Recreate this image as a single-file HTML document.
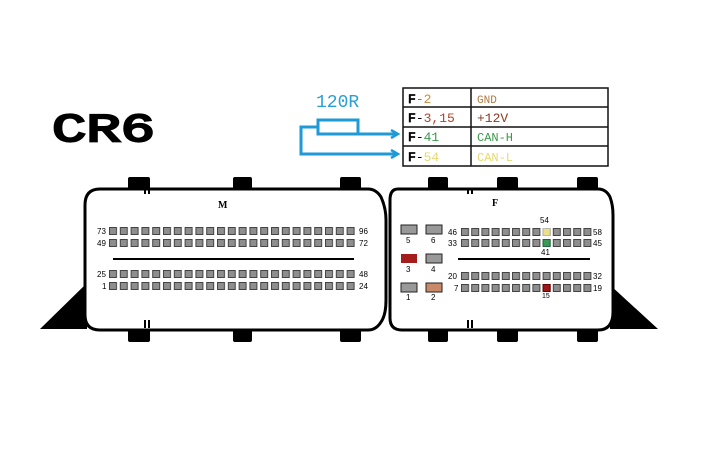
<!DOCTYPE html>
<html><head><meta charset="utf-8"><style>
html,body{margin:0;padding:0;background:#fff;}
svg{display:block;}
text{font-family:"Liberation Sans",sans-serif;}
text.m,.m text{font-family:"Liberation Mono","DejaVu Sans Mono",monospace;}
text.s{font-family:"Liberation Serif",serif;}
</style></head><body>
<svg width="719" height="455" viewBox="0 0 719 455" xmlns="http://www.w3.org/2000/svg">
<defs>
<pattern id="pm" x="109" y="0" width="10.8" height="8" patternUnits="userSpaceOnUse">
<rect x="0.5" y="0.5" width="7" height="7" fill="#8e8e8e" stroke="#444" stroke-width="1"/>
</pattern>
<pattern id="pf" x="461" y="0" width="10.2" height="8" patternUnits="userSpaceOnUse">
<rect x="0.5" y="0.5" width="7" height="7" fill="#8e8e8e" stroke="#444" stroke-width="1"/>
</pattern>
<marker id="ar" markerWidth="10" markerHeight="10" refX="8" refY="5" orient="auto" markerUnits="userSpaceOnUse">
<path d="M1,1 L8,5 L1,9" fill="none" stroke="#1e9ad6" stroke-width="2.5"/>
</marker>
</defs>
<rect width="719" height="455" fill="#fff"/>
<text x="52" y="141" class="m" font-size="40" stroke="#000" stroke-width="2.2" textLength="103" lengthAdjust="spacingAndGlyphs">CR6</text>

<text x="316" y="107" class="m" font-size="18" fill="#2a9fd2">120R</text>
<rect x="318" y="120" width="40" height="14" fill="none" stroke="#1e9ad6" stroke-width="3"/>
<polyline points="318,127 301,127 301,154 398,154" fill="none" stroke="#1e9ad6" stroke-width="3" marker-end="url(#ar)"/>
<line x1="358" y1="134" x2="398" y2="134" stroke="#1e9ad6" stroke-width="3" marker-end="url(#ar)"/>

<g stroke="#111" stroke-width="1.5" fill="none">
<rect x="403" y="88" width="205" height="78"/>
<line x1="471" y1="88" x2="471" y2="166"/>
<line x1="403" y1="107" x2="608" y2="107"/>
<line x1="403" y1="127" x2="608" y2="127"/>
<line x1="403" y1="146" x2="608" y2="146"/>
</g>
<g class="m" font-size="13">
<text x="408" y="103"><tspan stroke="#000" stroke-width="0.8">F</tspan><tspan fill="#b56">-</tspan><tspan fill="#c8893a">2</tspan></text>
<text x="408" y="122"><tspan stroke="#000" stroke-width="0.8">F</tspan>-<tspan fill="#b0432a">3,15</tspan></text>
<text x="408" y="141"><tspan stroke="#000" stroke-width="0.8">F</tspan>-<tspan fill="#3a9a4a">41</tspan></text>
<text x="408" y="161"><tspan stroke="#000" stroke-width="0.8">F</tspan>-<tspan fill="#e8d870">54</tspan></text>
<text x="477" y="103" font-size="11" fill="#b07a40">GND</text>
<text x="477" y="122" fill="#8a3a20">+12V</text>
<text x="477" y="141" font-size="12" fill="#3a9a4a">CAN-H</text>
<text x="477" y="161" font-size="12" fill="#e8d870">CAN-L</text>
</g>

<polygon points="40,329 87,283 87,329" fill="#000"/>
<polygon points="610,285 658,329 610,329" fill="#000"/>

<g fill="#000">
<rect x="128" y="177" width="22" height="14" rx="2"/><rect x="233" y="177" width="19" height="14" rx="2"/><rect x="340" y="177" width="21" height="14" rx="2"/>
<rect x="428" y="177" width="20" height="14" rx="2"/><rect x="497" y="177" width="21" height="14" rx="2"/><rect x="577" y="177" width="21" height="14" rx="2"/>
<rect x="128" y="327" width="22" height="15" rx="2"/><rect x="233" y="327" width="19" height="15" rx="2"/><rect x="340" y="327" width="21" height="15" rx="2"/>
<rect x="428" y="327" width="20" height="15" rx="2"/><rect x="497" y="327" width="21" height="15" rx="2"/><rect x="577" y="327" width="21" height="15" rx="2"/>
</g>

<path d="M100,189 L368,189 Q376,189 381,197 Q386,208 386,220 L386,300 Q386,315 381,322 Q376,330 368,330 L100,330 Q85,330 85,315 L85,205 Q85,189 100,189 Z" fill="#fff" stroke="#000" stroke-width="3"/>
<path d="M398,189 L598,189 Q606,189 610,197 Q613,205 613,215 L613,312 Q613,330 598,330 L402,330 Q390,330 390,318 L390,200 Q390,189 398,189 Z" fill="#fff" stroke="#000" stroke-width="3"/>
<g fill="#000"><rect x="144" y="189" width="2" height="5"/><rect x="148" y="189" width="2" height="5"/><rect x="144" y="320" width="2" height="8"/><rect x="148" y="320" width="2" height="8"/>
<rect x="467" y="189" width="2" height="5"/><rect x="471" y="189" width="2" height="5"/><rect x="467" y="320" width="2" height="8"/><rect x="471" y="320" width="2" height="8"/></g>

<text x="218" y="208" class="s" font-weight="bold" font-size="10">M</text>
<text x="492" y="206" class="s" font-weight="bold" font-size="10">F</text>

<g transform="translate(0,227)"><rect x="109" y="0" width="248" height="8" fill="url(#pm)"/></g>
<g transform="translate(0,239)"><rect x="109" y="0" width="248" height="8" fill="url(#pm)"/></g>
<g transform="translate(0,270)"><rect x="109" y="0" width="248" height="8" fill="url(#pm)"/></g>
<g transform="translate(0,282)"><rect x="109" y="0" width="248" height="8" fill="url(#pm)"/></g>
<line x1="113" y1="259" x2="354" y2="259" stroke="#000" stroke-width="2"/>
<g font-size="8">
<text x="97" y="234">73</text><text x="97" y="246">49</text><text x="97" y="277">25</text><text x="102" y="289">1</text>
<text x="359" y="234">96</text><text x="359" y="246">72</text><text x="359" y="277">48</text><text x="359" y="289">24</text>
</g>

<g transform="translate(0,228)"><rect x="461" y="0" width="131" height="8" fill="url(#pf)"/></g>
<g transform="translate(0,239)"><rect x="461" y="0" width="131" height="8" fill="url(#pf)"/></g>
<g transform="translate(0,272)"><rect x="461" y="0" width="131" height="8" fill="url(#pf)"/></g>
<g transform="translate(0,284)"><rect x="461" y="0" width="131" height="8" fill="url(#pf)"/></g>
<rect x="543.1" y="228.5" width="7" height="7" fill="#ecdf88" stroke="#bba" stroke-width="1"/>
<rect x="543.1" y="239.5" width="7" height="7" fill="#3a9a55" stroke="#264" stroke-width="1"/>
<rect x="543.1" y="284.5" width="7" height="7" fill="#a01818" stroke="#600" stroke-width="1"/>
<line x1="458" y1="259" x2="590" y2="259" stroke="#000" stroke-width="2"/>
<g font-size="8">
<text x="448" y="235">46</text><text x="448" y="246">33</text><text x="448" y="279">20</text><text x="454" y="291">7</text>
<text x="593" y="235">58</text><text x="593" y="246">45</text><text x="593" y="279">32</text><text x="593" y="291">19</text>
<text x="540" y="223">54</text><text x="541" y="255">41</text><text x="542" y="298" font-size="7">15</text>
</g>
<g stroke="#222" stroke-width="1">
<rect x="401" y="225" width="16" height="9" fill="#999"/><rect x="426" y="225" width="16" height="9" fill="#999"/>
<rect x="401" y="254" width="16" height="9" fill="#a51c1c" stroke="none"/><rect x="426" y="254" width="16" height="9" fill="#999"/>
<rect x="401" y="283" width="16" height="9" fill="#999"/><rect x="426" y="283" width="16" height="9" fill="#c98a6a"/>
</g>
<g font-size="8">
<text x="406" y="243">5</text><text x="431" y="243">6</text><text x="406" y="272">3</text><text x="431" y="272">4</text><text x="406" y="300">1</text><text x="431" y="300">2</text>
</g>
</svg>
</body></html>
